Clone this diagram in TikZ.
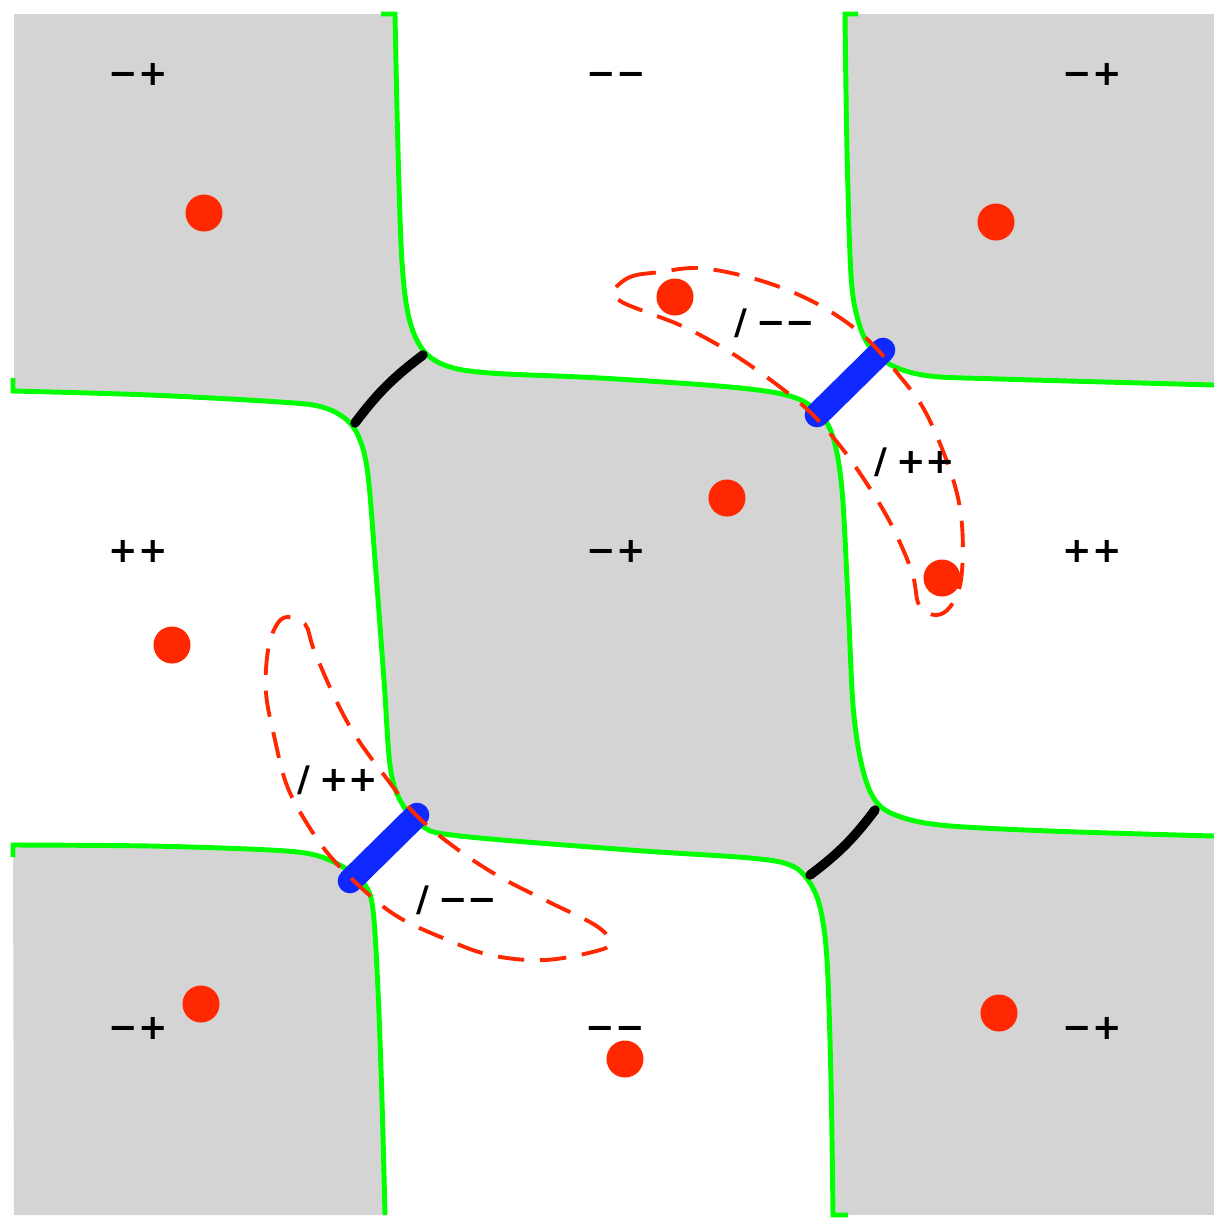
\documentclass[tikz,border=0pt]{standalone}
\usepackage{fontspec}
\newfontfamily\signfont{DejaVu Sans}
\usetikzlibrary{calc}
\definecolor{cellgray}{RGB}{212,212,212}
\definecolor{lvlgreen}{RGB}{0,255,0}
\definecolor{ptred}{RGB}{255,40,0}
\definecolor{barblue}{RGB}{15,40,255}

% zero lines, pixel units (y grows downwards)
\newcommand{\lineP}{(381,14) -- plot[smooth, tension=0.55] coordinates {(395,14) (398,150) (402,262) (409,318) (423,350) (447,366) (490,373) (600,378) (730,387) (790,396) (818,412) (833,437) (842,490) (848,600) (853,705) (861,762) (873,797) (893,814) (940,825) (1050,831) (1214,836)}}
\newcommand{\lineR}{(858,14) -- plot[smooth, tension=0.55] coordinates {(845,14) (847,150) (851,275) (858,320) (870,347) (893,366) (930,376) (1000,379) (1214,385)}}
\newcommand{\lineQ}{(13,378) -- plot[smooth, tension=0.55] coordinates {(13,391) (150,395) (280,402) (322,407) (347,420) (360,440) (368,475) (375,560) (384,680) (390,765) (400,800) (422,826) (460,836) (630,850) (750,858) (790,865) (808,880) (820,907) (827,960) (831,1080) (833,1215)} -- (848,1215)}
\newcommand{\lineS}{(13,857) -- plot[smooth, tension=0.55] coordinates {(13,845) (150,846) (270,850) (315,855) (345,868) (365,885) (373,910) (378,990) (382,1100) (385,1215)}}

\begin{document}
\begin{tikzpicture}[x=0.01cm, y=-0.01cm,
  level/.style={lvlgreen, line width=1.4pt},
  lensline/.style={ptred, line width=1.1pt, dash pattern=on 7.5pt off 4.5pt},
  bar/.style={barblue, line width=7pt, line cap=round},
  neck/.style={black, line width=2.7pt, line cap=round},
  dot/.style={circle, fill=ptred, inner sep=0pt, minimum size=0.37cm},
  sgn/.style={font=\signfont\bfseries\fontsize{10}{12}\selectfont, text height=6.3pt, text depth=0pt, inner sep=0pt}]
\useasboundingbox (0,0) rectangle (1214,1223);

% cells
\fill[cellgray] (14,14) rectangle (1214,1215);
\fill[white] \lineP -- (1214,14) -- cycle;
\fill[cellgray] \lineR -- (1214,14) -- cycle;
\fill[white] \lineQ -- (14,1215) -- cycle;
\fill[cellgray] \lineS -- (14,1215) -- cycle;

\draw[level] \lineP;
\draw[level] \lineR;
\draw[level] \lineQ;
\draw[level] \lineS;

% bonds
\coordinate (n1) at (355,423); \coordinate (n2) at (423,355);
\coordinate (n3) at (810,875); \coordinate (n4) at (875,810);
\draw[neck] (n1) to[bend left=8] (n2);
\draw[neck] (n3) to[bend right=8] (n4);

\coordinate (u1) at (817,415); \coordinate (u2) at (883,350);
\coordinate (u3) at (350,881); \coordinate (u4) at (417,815);
\draw[bar] (u1) -- (u2);
\draw[bar] (u3) -- (u4);

% loops
\draw[lensline] plot[smooth cycle, tension=0.6] coordinates {(613,292) (630,277) (660,272) (697,268) (740,275) (785,289) (828,310) (866,338) (898,374) (926,413) (952,476) (962,525) (961,580) (950,607) (935,615) (919,605) (912,572) (892,526) (869,487) (841,447) (809,411) (768,378) (725,349) (682,326) (646,312) (622,302)};
\draw[lensline] plot[smooth cycle, tension=0.6] coordinates {(287,617) (305,624) (314,650) (334,696) (355,735) (384,775) (416,815) (457,849) (500,877) (547,901) (595,925) (610,941) (600,950) (545,960) (490,955) (443,938) (400,918) (367,893) (330,856) (303,817) (286,783) (275,740) (266,693) (268,650) (276,626)};

% charges
\node[dot] (d1) at (204,213) {};
\node[dot] (d2) at (996,222) {};
\node[dot] (d3) at (675,297) {};
\node[dot] (d4) at (727,498) {};
\node[dot] (d5) at (942,578) {};
\node[dot] (d6) at (172,645) {};
\node[dot] (d7) at (201,1004) {};
\node[dot] (d8) at (625,1059) {};
\node[dot] (d9) at (999,1013) {};

% signs
\node[sgn] (s1) at (138,74) {−+};
\node[sgn] (s2) at (616,74) {−−};
\node[sgn] (s3) at (1092,74) {−+};
\node[sgn] (s4) at (138,551) {++};
\node[sgn] (s5) at (616,551) {−+};
\node[sgn] (s6) at (1092,551) {++};
\node[sgn] (s7) at (138,1028) {−+};
\node[sgn] (s8) at (615,1028) {−−};
\node[sgn] (s9) at (1092,1028) {−+};
\node[sgn] (t1) at (775,323) {/\kern2.5pt−−};
\node[sgn] (t2) at (915,462) {/\kern2.5pt++};
\node[sgn] (t3) at (338,780) {/\kern2.5pt++};
\node[sgn] (t4) at (457,900) {/\kern2.5pt−−};
\end{tikzpicture}
\end{document}
